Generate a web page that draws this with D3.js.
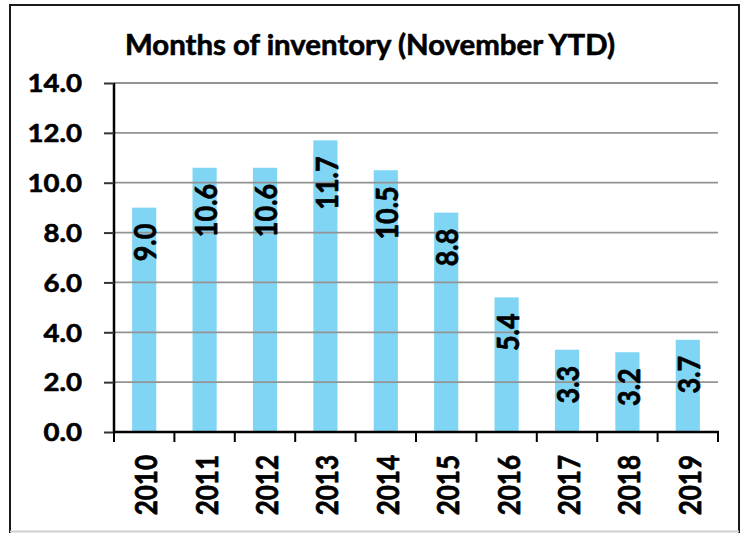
<!DOCTYPE html>
<html><head><meta charset="utf-8">
<script src="https://cdn.jsdelivr.net/npm/d3@7"></script>
<style>body{margin:0;background:#fff}svg{display:block}text{stroke:#000;stroke-width:0.6px;stroke-linejoin:round}</style></head>
<body>
<svg id="c" width="748" height="533"></svg>
<script>
const categories = ["2010","2011","2012","2013","2014","2015","2016","2017","2018","2019"];
const values = [9.0, 10.6, 10.6, 11.7, 10.5, 8.8, 5.4, 3.3, 3.2, 3.7];
const yTicks = [0, 2, 4, 6, 8, 10, 12, 14];
const titleText = "Months of inventory (November YTD)";

const svg = d3.select("#c");
const FONT = "Lato, 'Open Sans', sans-serif";
const pL = 114, pR = 718, pT = 83, pB = 432;

const x = d3.scaleBand().domain(categories).range([pL, pR]).paddingInner(0.6).paddingOuter(0.3);
const xEdges = d3.scaleLinear().domain([0, categories.length]).range([pL, pR]);
const y = d3.scaleLinear().domain([0, 14]).range([pB, pT]);

// frame
svg.append("rect").attr("x",0).attr("y",0).attr("width",748).attr("height",533).attr("fill","#fff");
svg.append("path").attr("d","M10,533 L10,5 L739,5 L739,533").attr("fill","none").attr("stroke","#1a1a1a").attr("stroke-width",2);
svg.append("line").attr("x1",10).attr("x2",739).attr("y1",531.5).attr("y2",531.5).attr("stroke","#d0d0d0").attr("stroke-width",2);

// title
svg.append("text").attr("x",370).attr("y",55).attr("text-anchor","middle")
  .attr("font-family",FONT).attr("font-weight","bold").attr("font-size",28)
  .attr("textLength",490).attr("lengthAdjust","spacingAndGlyphs")
  .attr("fill","#000").text(titleText);

// bars
svg.append("g").selectAll("rect").data(values).join("rect")
  .attr("x",(d,i)=>x(categories[i])).attr("width",x.bandwidth())
  .attr("y",d=>y(d)).attr("height",d=>y(0)-y(d)).attr("fill","#80d5f5");

// gridlines (over bars)
svg.append("g").selectAll("line").data(yTicks.filter(t=>t>0)).join("line")
  .attr("x1",pL).attr("x2",pR).attr("y1",d=>y(d)).attr("y2",d=>y(d))
  .attr("stroke","#939393").attr("stroke-width",1.8);

// y axis
const yAxis = svg.append("g").attr("transform",`translate(${pL},0)`)
  .call(d3.axisLeft(y).tickValues(yTicks).tickSize(10).tickFormat(""));
yAxis.select(".domain").attr("stroke","#000").attr("stroke-width",2.5).attr("d",`M0,${pT}V${pB+1}`);
yAxis.selectAll(".tick line").attr("stroke","#333").attr("stroke-width",2);

svg.append("g").selectAll("text").data(yTicks).join("text")
  .attr("transform",d=>`translate(82,${y(d)}) scale(1.15,1)`)
  .attr("text-anchor","end").attr("dominant-baseline","central")
  .attr("font-family",FONT).attr("font-weight","bold").attr("font-size",24)
  .attr("fill","#000").text(d=>d.toFixed(1));

// x axis
const xAxis = svg.append("g").attr("transform",`translate(0,${pB})`);
xAxis.append("line").attr("x1",pL-1).attr("x2",pR+1).attr("y1",0).attr("y2",0).attr("stroke","#000").attr("stroke-width",2.5);
xAxis.selectAll("line.tk").data(d3.range(categories.length+1)).join("line").attr("class","tk")
  .attr("x1",d=>xEdges(d)).attr("x2",d=>xEdges(d)).attr("y1",0).attr("y2",10)
  .attr("stroke","#000").attr("stroke-width",2);

svg.append("g").selectAll("text").data(categories).join("text")
  .attr("transform",d=>`translate(${x(d)+x.bandwidth()/2+1},455) rotate(-90) scale(1,1.2)`)
  .attr("text-anchor","end").attr("dominant-baseline","central")
  .attr("font-family",FONT).attr("font-weight","bold").attr("font-size",26)
  .attr("fill","#000").text(d=>d);

// value labels
svg.append("g").selectAll("text").data(values).join("text")
  .attr("transform",(d,i)=>`translate(${x(categories[i])+x.bandwidth()/2},${y(d)+16}) rotate(-90) scale(1,1.15)`)
  .attr("text-anchor","end").attr("dominant-baseline","central")
  .attr("font-family",FONT).attr("font-weight","bold").attr("font-size",27)
  .attr("fill","#000").text(d=>d.toFixed(1));
</script>
</body></html>
